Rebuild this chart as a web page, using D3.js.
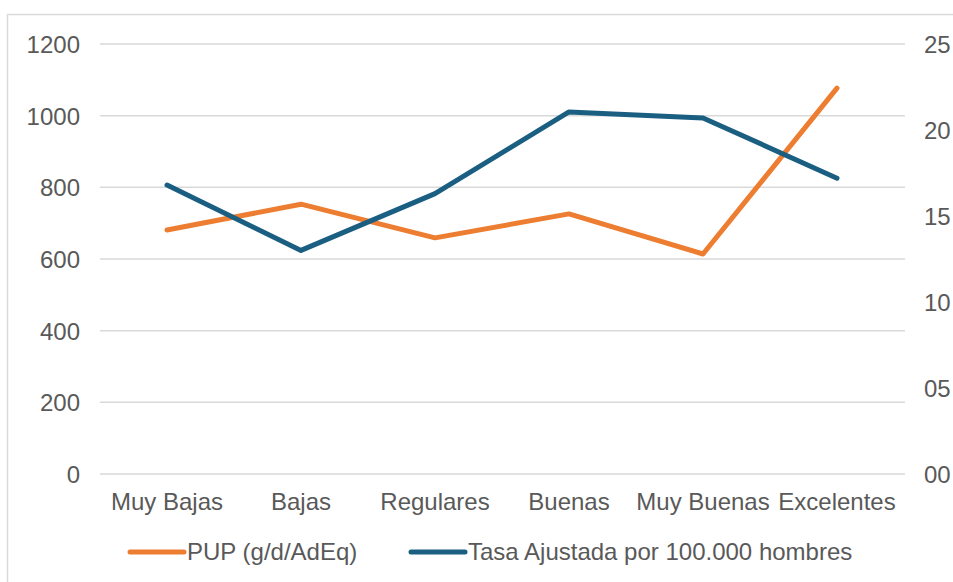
<!DOCTYPE html>
<html>
<head>
<meta charset="utf-8">
<script src="https://cdn.jsdelivr.net/npm/d3@7"></script>
<style>
  body { margin: 0; background: #fff; }
  svg text { font-family: "Liberation Sans", Arial, sans-serif; fill: #595959; }
</style>
</head>
<body>
<svg width="953" height="582"></svg>
<script>
// data
var categories = ["Muy Bajas", "Bajas", "Regulares", "Buenas", "Muy Buenas", "Excelentes"];
var pup = [681, 753, 659, 726, 614, 1077];
var tasa = [16.8, 13.0, 16.3, 21.05, 20.7, 17.2];
var leftTicks = [0, 200, 400, 600, 800, 1000, 1200];
var rightTicks = [0, 5, 10, 15, 20, 25];
var rightLabels = ["00", "05", "10", "15", "20", "25"];
var seriesNames = ["PUP (g/d/AdEq)", "Tasa Ajustada por 100.000 hombres"];
var colors = ["#ED7D31", "#1A5F82"];

var svg = d3.select("svg");
var fontSize = 24;

// outer frame of the chart (cut at the right / bottom)
svg.append("rect")
    .attr("x", 7.5).attr("y", 14.5)
    .attr("width", 1000).attr("height", 1000)
    .attr("fill", "none")
    .attr("stroke", "#D9D9D9")
    .attr("stroke-width", 1.5);

var x = d3.scaleBand().domain(categories).range([100, 904]);
var yL = d3.scaleLinear().domain([0, 1200]).range([474, 44]);
var yR = d3.scaleLinear().domain([0, 25]).range([474, 44]);

// gridlines
svg.append("g").selectAll("line")
    .data(leftTicks)
    .enter().append("line")
    .attr("x1", 100).attr("x2", 905)
    .attr("y1", function (d) { return yL(d); })
    .attr("y2", function (d) { return yL(d); })
    .attr("stroke", "#D9D9D9")
    .attr("stroke-width", 1.5);

// left axis
var leftAxis = svg.append("g")
    .attr("transform", "translate(80,0)")
    .call(d3.axisLeft(yL).tickValues(leftTicks).tickSize(0).tickPadding(0)
        .tickFormat(d3.format("d")));
leftAxis.select(".domain").remove();
leftAxis.selectAll("text").attr("font-size", fontSize).attr("font-family", null).attr("dy", "0.35em");

// right axis
var rightAxis = svg.append("g")
    .attr("transform", "translate(924,0)")
    .call(d3.axisRight(yR).tickValues(rightTicks).tickSize(0).tickPadding(0)
        .tickFormat(function (d, i) { return rightLabels[i]; }));
rightAxis.select(".domain").remove();
rightAxis.selectAll("text").attr("font-size", fontSize).attr("font-family", null).attr("dy", "0.35em");

// bottom axis
var bottomAxis = svg.append("g")
    .attr("transform", "translate(0,474)")
    .call(d3.axisBottom(x).tickSize(0).tickPadding(19));
bottomAxis.select(".domain").remove();
bottomAxis.selectAll("text").attr("font-size", fontSize).attr("font-family", null);

// lines
var cx = function (d, i) { return x(categories[i]) + x.bandwidth() / 2; };

svg.append("path")
    .datum(pup)
    .attr("fill", "none")
    .attr("stroke", colors[0])
    .attr("stroke-width", 5)
    .attr("stroke-linecap", "round")
    .attr("stroke-linejoin", "round")
    .attr("d", d3.line().x(cx).y(function (d) { return yL(d); }));

svg.append("path")
    .datum(tasa)
    .attr("fill", "none")
    .attr("stroke", colors[1])
    .attr("stroke-width", 5)
    .attr("stroke-linecap", "round")
    .attr("stroke-linejoin", "round")
    .attr("d", d3.line().x(cx).y(function (d) { return yR(d); }));

// legend
var legendX = [130, 411];
var legend = svg.append("g").selectAll("g")
    .data(seriesNames)
    .enter().append("g")
    .attr("transform", function (d, i) { return "translate(" + legendX[i] + ",552)"; });

legend.append("line")
    .attr("x1", 0).attr("x2", 54)
    .attr("stroke", function (d, i) { return colors[i]; })
    .attr("stroke-width", 5)
    .attr("stroke-linecap", "round");

legend.append("text")
    .attr("x", 57)
    .attr("dy", "0.35em")
    .attr("font-size", fontSize)
    .text(function (d) { return d; });
</script>
</body>
</html>
